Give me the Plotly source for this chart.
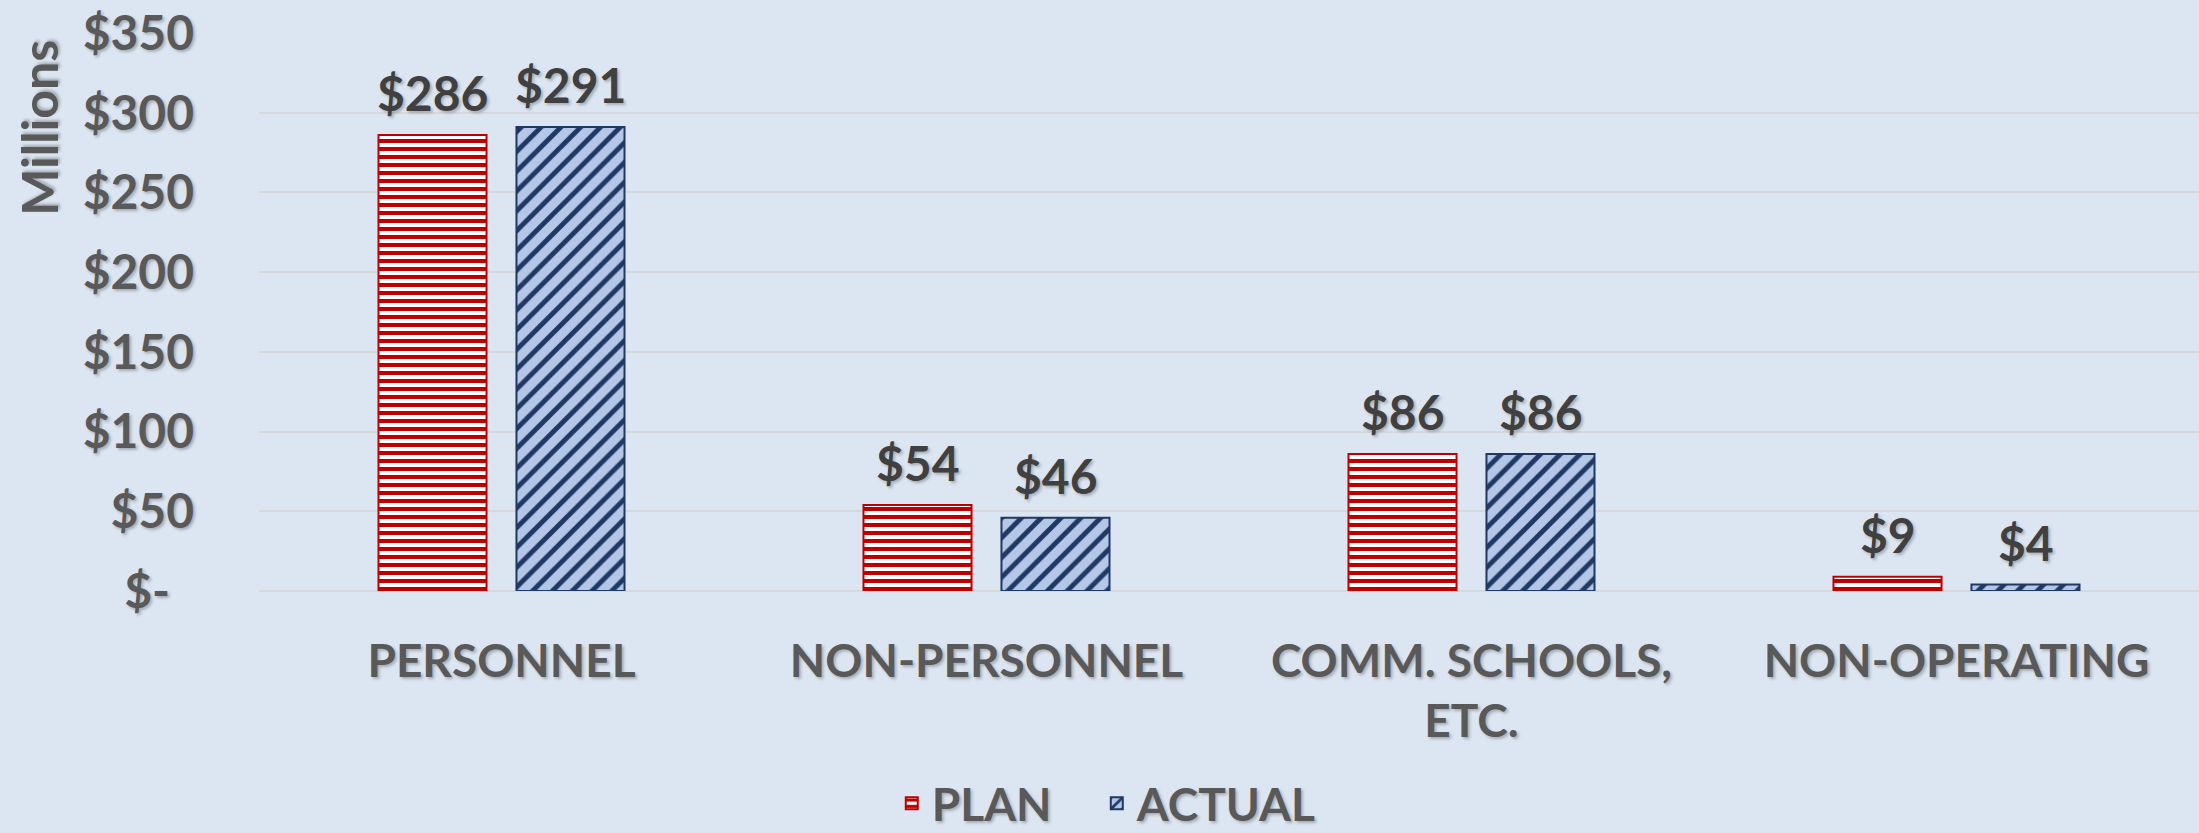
import plotly.graph_objects as go

categories = ["PERSONNEL", "NON-PERSONNEL", "COMM. SCHOOLS,<br>ETC.", "NON-OPERATING"]
plan = [286, 54, 86, 9]
actual = [291, 46, 86, 4]
series_names = ["PLAN", "ACTUAL"]
tick_vals = [0, 50, 100, 150, 200, 250, 300, 350]
tick_text = ["$-\u2002", "$50", "$100", "$150", "$200", "$250", "$300", "$350"]

FONT = "Lato, 'Open Sans', sans-serif"
GRAY = "#595959"
DARK = "#404040"
SHADOW = "2px 2px 3px rgba(0,0,0,0.25)"
BG = "#DCE6F2"
BAR_OFFSET_PX = 69  # half of a bar slot in the group

fig = go.Figure()
fig.add_trace(go.Bar(
    name=series_names[0] + "\u2002\u2009\u2009\u2009", x=categories, y=plan,
    marker=dict(color="white",
                line=dict(color="#C00000", width=2),
                pattern=dict(shape="-", fgcolor="#C00000", bgcolor="white",
                             size=8, solidity=0.5, fillmode="replace")),
))
fig.add_trace(go.Bar(
    name=series_names[1], x=categories, y=actual,
    marker=dict(color="#B4C7E7",
                line=dict(color="#1F3864", width=2),
                pattern=dict(shape="/", fgcolor="#1F3864", bgcolor="#B4C7E7",
                             size=14, solidity=0.35, fillmode="replace")),
))

annotations = []
for series, shift in ((plan, -BAR_OFFSET_PX), (actual, BAR_OFFSET_PX)):
    for cat, v in zip(categories, series):
        annotations.append(dict(
            x=cat, y=v, xref="x", yref="y", text=f"${v}", showarrow=False,
            xanchor="center", yanchor="bottom", xshift=shift, yshift=12,
            font=dict(family=FONT, size=48, color=DARK, weight="bold", shadow=SHADOW)))

annotations.append(dict(
    text="Millions", textangle=-90, xref="paper", yref="paper",
    x=-0.1134, y=0.830, xanchor="center", yanchor="middle", showarrow=False,
    font=dict(family=FONT, size=50, color=GRAY, weight="bold", shadow=SHADOW)))

fig.update_layout(
    width=2199, height=833,
    paper_bgcolor=BG, plot_bgcolor=BG,
    margin=dict(l=259, r=0, t=33, b=242, autoexpand=False),
    barmode="group", bargap=0.431, bargroupgap=0.217,
    font=dict(family=FONT, size=46, color=GRAY, weight="bold"),
    showlegend=True,
    legend=dict(orientation="h", x=0.437, xanchor="center", y=-0.446, yanchor="bottom",
                font=dict(family=FONT, size=46, color=GRAY, weight="bold", shadow=SHADOW),
                bgcolor="rgba(0,0,0,0)", traceorder="normal"),
    xaxis=dict(showgrid=False, zeroline=False, showline=False,
               ticks="outside", ticklen=30, tickcolor="rgba(0,0,0,0)",
               tickfont=dict(family=FONT, size=46, color=GRAY, weight="bold", shadow=SHADOW)),
    yaxis=dict(range=[0, 350], tickvals=tick_vals, ticktext=tick_text,
               showgrid=True, gridcolor="#D6D9DC", gridwidth=2,
               zeroline=True, zerolinecolor="#D6D9DC", zerolinewidth=2,
               showline=False, ticklabelstandoff=64,
               tickfont=dict(family=FONT, size=48, color=GRAY, weight="bold", shadow=SHADOW)),
    annotations=annotations,
)

fig.write_html("out.html", config={"displayModeBar": False},
               post_script="document.body.style.margin='0';document.body.style.padding='0';")
